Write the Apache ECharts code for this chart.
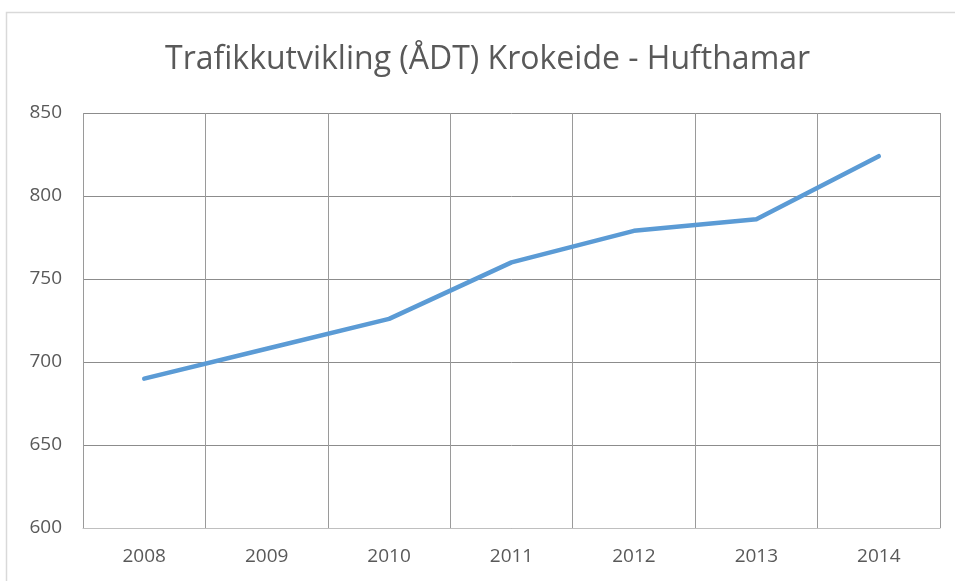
<!DOCTYPE html>
<html>
<head>
<meta charset="utf-8">
<script src="https://cdn.jsdelivr.net/npm/echarts@6/dist/echarts.min.js"></script>
<style>
  html, body { margin: 0; padding: 0; background: #fff; }
  #main { width: 955px; height: 581px; }
</style>
</head>
<body>
<div id="main"></div>
<script>
// data
var years = ['2008', '2009', '2010', '2011', '2012', '2013', '2014'];
var adt = [690, 708, 726, 760, 779, 786, 824];
var yTicks = [600, 650, 700, 750, 800, 850];

var chart = echarts.init(document.getElementById('main'), null, { renderer: 'canvas' });

var option = {
  backgroundColor: '#fff',
  animation: false,
  title: {
    text: 'Trafikkutvikling (ÅDT) Krokeide - Hufthamar',
    left: 160,
    top: 39,
    textStyle: {
      fontFamily: 'Open Sans',
      fontWeight: 'normal',
      fontSize: 32,
      color: '#595959'
    }
  },
  // chart area border (only top and left visible in the crop)
  graphic: [{
    type: 'rect',
    shape: { x: 6.5, y: 12.5, width: 1000, height: 1000 },
    style: { fill: 'none', stroke: '#d9d9d9', lineWidth: 1.5 },
    silent: true
  }],
  grid: {
    left: 83,
    right: 15,
    top: 113,
    bottom: 53
  },
  xAxis: {
    type: 'category',
    data: years,
    boundaryGap: true,
    axisLine: { show: true, lineStyle: { color: '#bfbfbf', width: 1 } },
    axisTick: { show: false },
    splitLine: { show: true, lineStyle: { color: '#9a9a9a', width: 1 } },
    axisLabel: {
      color: '#595959',
      fontFamily: 'Open Sans',
      fontSize: 19,
      margin: 19
    }
  },
  yAxis: {
    type: 'value',
    min: yTicks[0],
    max: yTicks[yTicks.length - 1],
    interval: 50,
    axisLine: { show: false },
    axisTick: { show: false },
    splitLine: { show: true, lineStyle: { color: '#8c8c8c', width: 1 } },
    axisLabel: {
      color: '#595959',
      fontFamily: 'Open Sans',
      fontSize: 19,
      margin: 21
    }
  },
  series: [{
    name: 'ÅDT',
    type: 'line',
    data: adt,
    symbol: 'none',
    lineStyle: { color: '#5b9bd5', width: 4.5, cap: 'round', join: 'round' },
    z: 5
  }]
};

chart.setOption(option);
</script>
</body>
</html>
